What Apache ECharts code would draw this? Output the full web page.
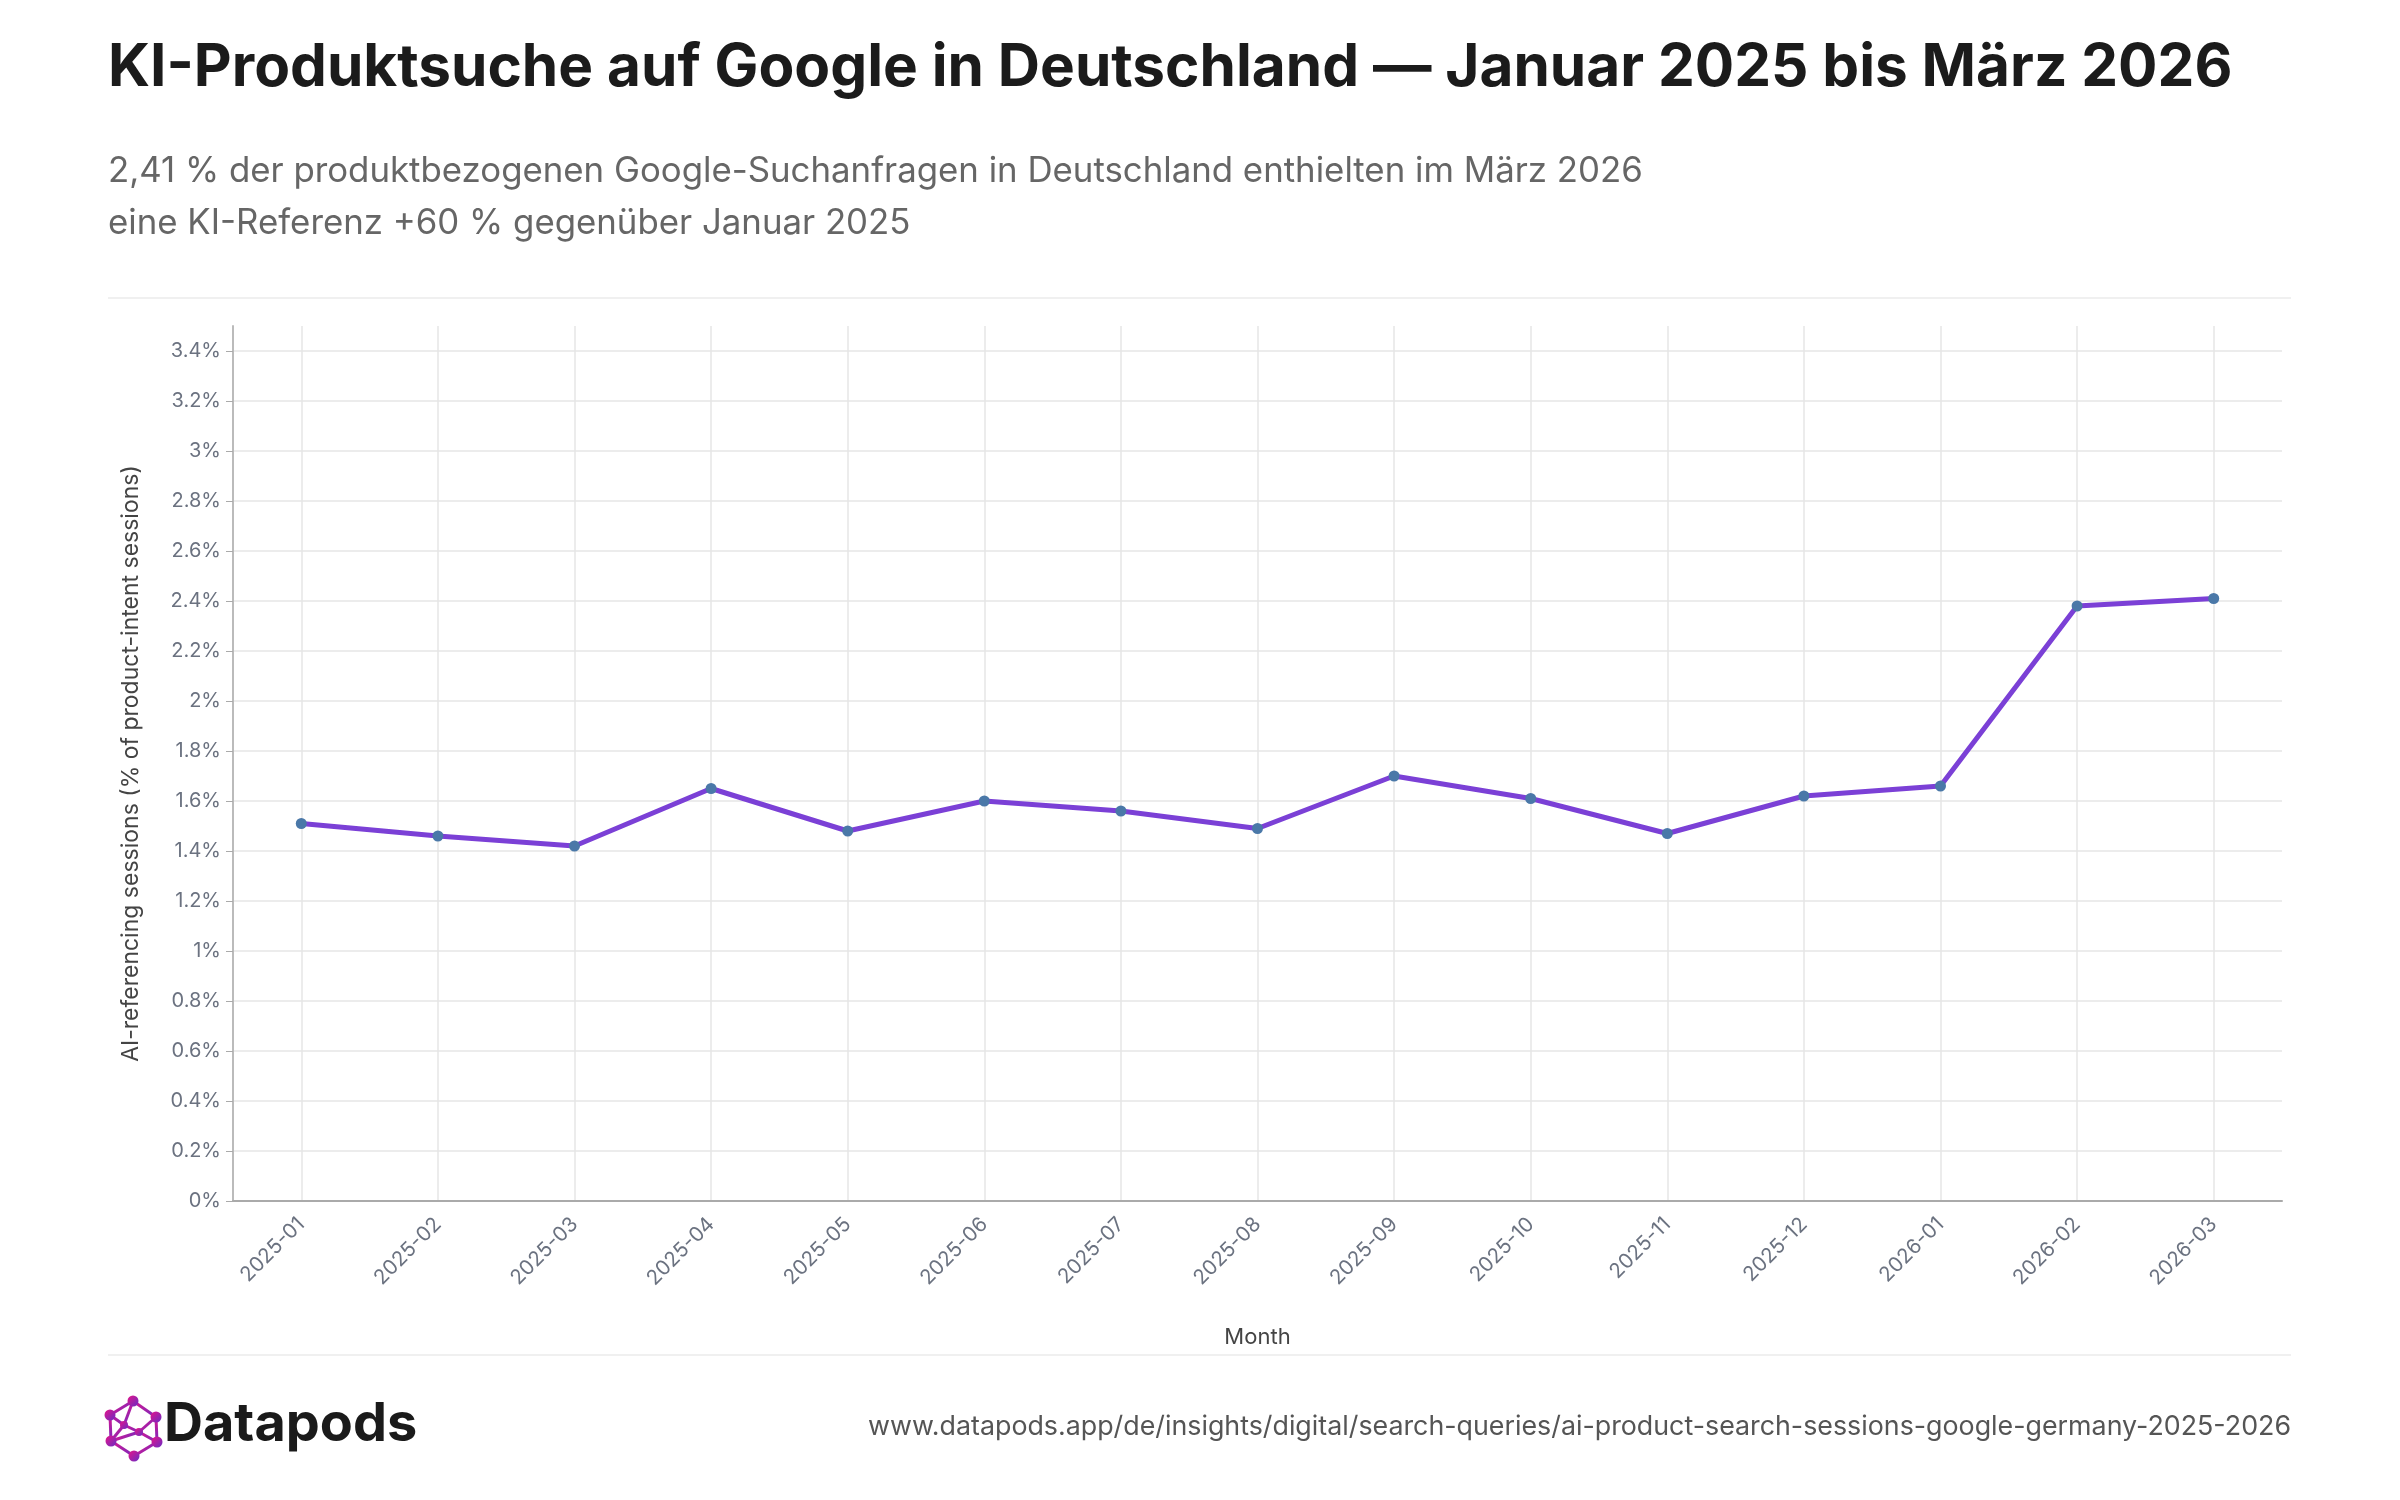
<!DOCTYPE html>
<html>
<head>
<meta charset="utf-8">
<script src="https://cdn.jsdelivr.net/npm/echarts@6/dist/echarts.min.js"></script>
<style>
  html, body { margin: 0; padding: 0; background: #fff; }
  #chart { width: 2400px; height: 1500px; }
</style>
</head>
<body>
<div id="chart"></div>
<script>
// months on the x axis
var months = ["2025-01", "2025-02", "2025-03", "2025-04", "2025-05", "2025-06", "2025-07",
  "2025-08", "2025-09", "2025-10", "2025-11", "2025-12", "2026-01", "2026-02", "2026-03"];
// AI-referencing sessions, % of product-intent sessions
var aiShare = [1.51, 1.46, 1.42, 1.65, 1.48, 1.60, 1.56, 1.49, 1.70, 1.61, 1.47, 1.62, 1.66, 2.38, 2.41];

var titleText = "KI-Produktsuche auf Google in Deutschland — Januar 2025 bis März 2026";
var subText = "2,41 % der produktbezogenen Google-Suchanfragen in Deutschland enthielten im März 2026\neine KI-Referenz +60 % gegenüber Januar 2025";
var sourceUrl = "www.datapods.app/de/insights/digital/search-queries/ai-product-search-sessions-google-germany-2025-2026";

var font = "Inter, 'Noto Sans', sans-serif";

// logo: little molecule icon
var logoGrad = new echarts.graphic.LinearGradient(0, 0, 1, 1, [
  { offset: 0, color: "#e5148a" },
  { offset: 1, color: "#6a2cc4" }
]);
var nodes = [[133, 1401], [110, 1415], [156, 1417], [111, 1441], [157, 1442], [134, 1456], [124, 1425], [139, 1432]];
var edges = [[0, 1], [0, 2], [1, 3], [2, 4], [3, 5], [4, 5], [0, 6], [1, 6], [6, 7], [7, 2], [7, 3], [7, 4], [6, 3]];
var logo = [];
edges.forEach(function (e) {
  logo.push({
    type: "line",
    shape: { x1: nodes[e[0]][0], y1: nodes[e[0]][1], x2: nodes[e[1]][0], y2: nodes[e[1]][1] },
    style: { stroke: logoGrad, lineWidth: 3 }
  });
});
nodes.forEach(function (n, i) {
  logo.push({
    type: "circle",
    shape: { cx: n[0], cy: n[1], r: i > 5 ? 4 : 5.5 },
    style: { fill: logoGrad }
  });
});

var myChart = echarts.init(document.getElementById("chart"));
var option = {
  backgroundColor: "#fff",
  animation: false,
  title: [
    {
      text: titleText,
      left: 108,
      top: 39,
      padding: 0,
      textStyle: { fontFamily: font, fontSize: 58.5, fontWeight: 700, color: "#1b1b1b" }
    },
    {
      text: subText,
      left: 108,
      top: 146,
      padding: 0,
      textStyle: { fontFamily: font, fontSize: 34.8, fontWeight: 400, color: "#666", lineHeight: 52 }
    }
  ],
  grid: { left: 233, right: 118, top: 326, bottom: 299 },
  xAxis: {
    type: "category",
    data: months,
    boundaryGap: true,
    name: "Month",
    nameLocation: "middle",
    nameGap: 125,
    nameTextStyle: { fontFamily: font, fontSize: 22, color: "#444" },
    axisLine: { lineStyle: { color: "#aaa", width: 2 } },
    axisTick: { alignWithLabel: true, length: 7, lineStyle: { color: "#aaa" } },
    axisLabel: { rotate: 45, fontFamily: font, fontSize: 20.5, color: "#6b7280", margin: 20 },
    splitLine: { show: true, alignWithLabel: true, lineStyle: { color: "#e6e6e6", width: 1.5 } }
  },
  yAxis: {
    type: "value",
    min: 0,
    max: 3.5,
    interval: 0.2,
    name: "AI-referencing sessions (% of product-intent sessions)",
    nameLocation: "middle",
    nameGap: 90,
    nameTextStyle: { fontFamily: font, fontSize: 23, color: "#444" },
    axisLine: { show: true, lineStyle: { color: "#bbb", width: 2 } },
    axisTick: { show: true, length: 7, lineStyle: { color: "#aaa" } },
    axisLabel: {
      fontFamily: font, fontSize: 20, color: "#6b7280", margin: 12,
      showMaxLabel: false,
      formatter: function (v) { return (Math.round(v * 10) / 10) + "%"; }
    },
    splitLine: { show: true, showMaxLine: false, lineStyle: { color: "#e6e6e6", width: 1.5 } }
  },
  series: [
    {
      type: "line",
      data: aiShare,
      symbol: "circle",
      symbolSize: 11,
      lineStyle: { color: "#7b40d6", width: 5 },
      itemStyle: { color: "#4a78a8" }
    }
  ],
  graphic: [
    { type: "line", shape: { x1: 108, y1: 298, x2: 2291, y2: 298 }, style: { stroke: "#f0f0f0", lineWidth: 2 } },
    { type: "line", shape: { x1: 108, y1: 1355, x2: 2291, y2: 1355 }, style: { stroke: "#f0f0f0", lineWidth: 2 } },
    { type: "group", children: logo },
    {
      type: "text",
      left: 164,
      top: 1398,
      style: { text: "Datapods", fontFamily: font, fontSize: 54, fontWeight: 700, fill: "#1a1a1a" }
    },
    {
      type: "text",
      right: 109,
      top: 1413,
      style: { text: sourceUrl, fontFamily: font, fontSize: 26.8, fill: "#555" }
    }
  ]
};
myChart.setOption(option);
</script>
</body>
</html>
